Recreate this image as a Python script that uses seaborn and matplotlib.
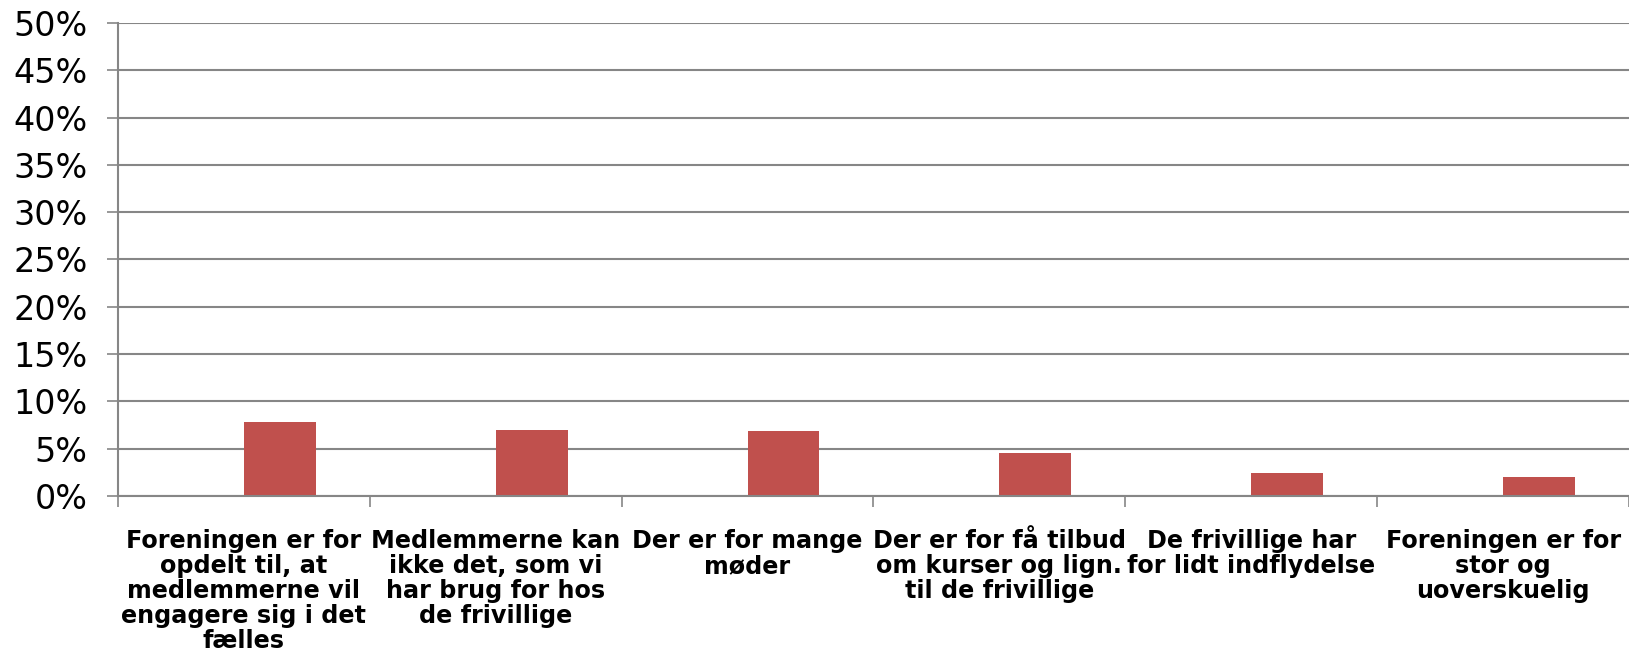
import pandas as pd
import seaborn as sns
import matplotlib.pyplot as plt
from matplotlib.ticker import FixedLocator, PercentFormatter

# Data (percent)
categories = [
    "Foreningen er for\nopdelt til, at\nmedlemmerne vil\nengagere sig i det\nfælles",
    "Medlemmerne kan\nikke det, som vi\nhar brug for hos\nde frivillige",
    "Der er for mange\nmøder",
    "Der er for få tilbud\nom kurser og lign.\ntil de frivillige",
    "De frivillige har\nfor lidt indflydelse",
    "Foreningen er for\nstor og\nuoverskuelig",
]
values = [7.8, 7.0, 6.9, 4.5, 2.4, 2.0]
# Excel clustered chart had an empty first series, which shifts the bars right
empty_series = [0, 0, 0, 0, 0, 0]
series_names = ["tom", "andel"]

df = pd.DataFrame({
    "kategori": categories * 2,
    "serie": [series_names[0]] * len(categories) + [series_names[1]] * len(categories),
    "andel": empty_series + values,
})

sns.set_style("white")
plt.rcParams['font.family'] = ['DejaVu Sans']
plt.rcParams['text.color'] = 'black'
plt.rcParams['xtick.color'] = 'black'
plt.rcParams['ytick.color'] = 'black'

grey = "#868686"
fig = plt.figure(figsize=(16.29, 6.64), dpi=100)
ax = fig.add_axes([0.0724, 0.253, 0.9276, 0.7124])

sns.barplot(data=df, x="kategori", y="andel", hue="serie", hue_order=series_names,
            order=categories, palette=["#FFFFFF", "#C0504D"], width=0.5714,
            saturation=1, linewidth=0, legend=False, ax=ax)

ax.set_ylim(0, 50)
ax.set_xlim(-0.5, len(categories) - 0.5)
ax.set_yticks(range(0, 51, 5))
ax.yaxis.set_major_formatter(PercentFormatter(decimals=0))
ax.yaxis.grid(True, color=grey, linewidth=1.5)
ax.set_axisbelow(True)

# ticks on category boundaries, labels at category centres
ax.xaxis.set_major_locator(FixedLocator([i - 0.5 for i in range(len(categories) + 1)]))
ax.xaxis.set_major_formatter(plt.NullFormatter())
ax.xaxis.set_minor_locator(FixedLocator(range(len(categories))))
ax.set_xticks(range(len(categories)), categories, minor=True)
ax.tick_params(axis="x", which="major", length=8, width=1.2, color=grey, direction="out", bottom=True)
ax.tick_params(axis="x", which="minor", length=0, pad=24)
for lbl in ax.get_xticklabels(minor=True):
    lbl.set_fontsize(17.2)
    lbl.set_fontweight("bold")
    lbl.set_linespacing(1.05)
    lbl.set_verticalalignment("top")

ax.tick_params(axis="y", length=8, width=1.2, color=grey, direction="out", left=True,
               labelsize=24, pad=14)

for side in ["top", "right"]:
    ax.spines[side].set_visible(False)
for side in ["left", "bottom"]:
    ax.spines[side].set_color(grey)
    ax.spines[side].set_linewidth(1.5)

ax.set_xlabel("")
ax.set_ylabel("")

fig.savefig("out.png", dpi=100)
